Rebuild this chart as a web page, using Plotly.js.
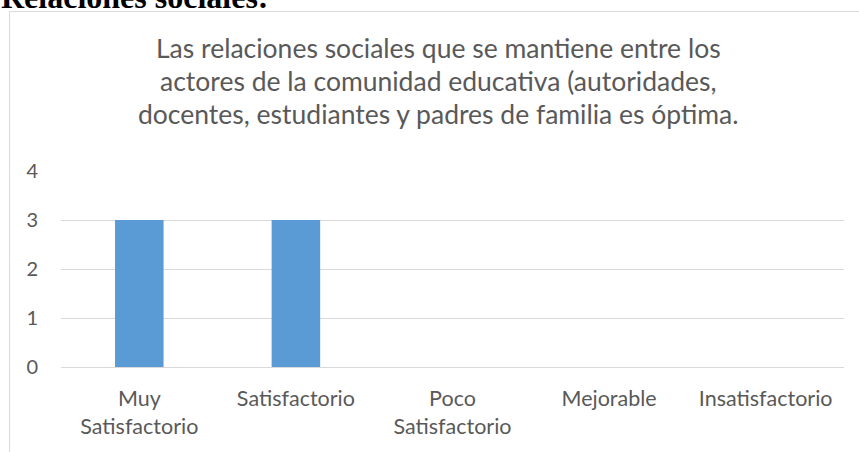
<!DOCTYPE html>
<html>
<head>
<meta charset="utf-8">
<script src="https://cdn.plot.ly/plotly-3.0.1.min.js"></script>
<style>
html,body{margin:0;padding:0;background:#fff;overflow:hidden;}
#chart{width:859px;height:452px;}
</style>
</head>
<body>
<div id="chart"></div>
<script>
const categories = ["Muy<br>Satisfactorio", "Satisfactorio", "Poco<br>Satisfactorio", "Mejorable", "Insatisfactorio"];
const values = [3, 3, 0, 0, 0];
const yTickValues = [0, 1, 2, 3, 4];
const titleLines = [
  "Las relaciones sociales que se mantiene entre los",
  "actores de la comunidad educativa (autoridades,",
  "docentes, estudiantes y padres de familia es óptima."
];
const heading = "Relaciones sociales:";

const W = 859, H = 452;
const L = 61, R = 15, T = 171, B = 85;
const pw = W - L - R, ph = H - T - B;
const px = x => (x - L) / pw;
const py = y => (H - B - y) / ph;

const trace = {
  type: 'bar',
  x: categories,
  y: values,
  width: 0.31,
  marker: {color: '#5B9BD5', line: {width: 0}},
  hoverinfo: 'none'
};

const titleBaselines = [59, 92, 125];
const titleAnnotations = titleLines.map((t, i) => ({
  text: t, xref: 'paper', yref: 'paper',
  x: px(438), y: py(titleBaselines[i] + 7), xanchor: 'center', yanchor: 'bottom',
  showarrow: false, align: 'center',
  font: {size: 26.5, color: '#595959', family: 'Lato, sans-serif'}
}));

const layout = {
  width: W, height: H,
  margin: {l: L, r: R, t: T, b: B},
  paper_bgcolor: '#ffffff',
  plot_bgcolor: '#ffffff',
  showlegend: false,
  font: {family: 'Lato, Carlito, sans-serif', color: '#595959'},
  xaxis: {
    type: 'category',
    tickfont: {size: 21.5, color: '#595959', family: 'Lato, sans-serif'},
    ticks: 'outside', ticklen: 12, tickcolor: 'rgba(0,0,0,0)',
    showgrid: false, showline: false, zeroline: false,
    fixedrange: true
  },
  yaxis: {
    range: [0, 4],
    tickvals: yTickValues,
    tickfont: {size: 20, color: '#595959', family: 'Lato, sans-serif'},
    ticks: 'outside', ticklen: 18, tickcolor: 'rgba(0,0,0,0)',
    showgrid: true, gridcolor: '#D9D9D9', gridwidth: 1,
    zeroline: true, zerolinecolor: '#D9D9D9', zerolinewidth: 1,
    showline: false, fixedrange: true
  },
  shapes: [{
    type: 'rect', xref: 'paper', yref: 'paper',
    x0: px(9.5), x1: px(880), y0: py(470), y1: py(11.5),
    line: {color: '#D9D9D9', width: 1}, fillcolor: 'rgba(0,0,0,0)', layer: 'below'
  }],
  annotations: titleAnnotations.concat([
    {
      text: '<b>' + heading + '</b>', xref: 'paper', yref: 'paper',
      x: px(-1), y: py(17), xanchor: 'left', yanchor: 'bottom',
      showarrow: false, align: 'left',
      font: {size: 32, color: '#000000', family: '"Liberation Serif", "Times New Roman", serif'}
    }
  ])
};

Plotly.newPlot('chart', [trace], layout, {displayModeBar: false, staticPlot: true});
</script>
</body>
</html>
